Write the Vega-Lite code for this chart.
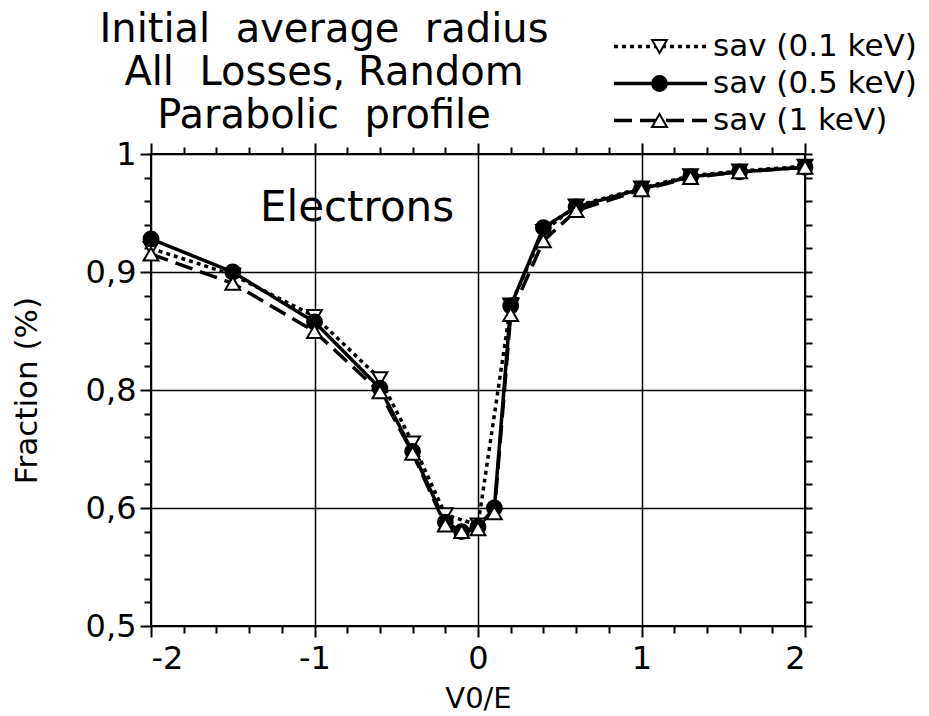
{
  "$schema": "https://vega.github.io/schema/vega-lite/v6.json",
  "width": 654,
  "height": 472,
  "autosize": "none",
  "padding": {"left": 151, "top": 154, "right": 124, "bottom": 90},
  "background": "white",
  "config": {"view": {"stroke": "black", "strokeWidth": 2}, "font": "DejaVu Sans"},
  "title": {
    "text": ["Initial\u00a0\u00a0average\u00a0\u00a0radius", "All\u00a0\u00a0Losses,\u00a0Random", "Parabolic\u00a0\u00a0profile"],
    "fontSize": 40, "font": "DejaVu Sans", "fontWeight": "normal", "lineHeight": 43,
    "anchor": "middle", "dx": -154, "dy": 108, "offset": 4, "color": "black"
  },
  "data": {"values": [
    {"series": "sav (0.1 keV)", "x": -2, "y": 0.900},
    {"series": "sav (0.1 keV)", "x": -1.5, "y": 0.872},
    {"series": "sav (0.1 keV)", "x": -1, "y": 0.828},
    {"series": "sav (0.1 keV)", "x": -0.6, "y": 0.762},
    {"series": "sav (0.1 keV)", "x": -0.4, "y": 0.694},
    {"series": "sav (0.1 keV)", "x": -0.2, "y": 0.618},
    {"series": "sav (0.1 keV)", "x": 0, "y": 0.607},
    {"series": "sav (0.1 keV)", "x": 0.2, "y": 0.840},
    {"series": "sav (0.1 keV)", "x": 0.4, "y": 0.918},
    {"series": "sav (0.1 keV)", "x": 0.6, "y": 0.945},
    {"series": "sav (0.1 keV)", "x": 1, "y": 0.964},
    {"series": "sav (0.1 keV)", "x": 1.3, "y": 0.977},
    {"series": "sav (0.1 keV)", "x": 1.6, "y": 0.982},
    {"series": "sav (0.1 keV)", "x": 2, "y": 0.987},
    {"series": "sav (0.5 keV)", "x": -2, "y": 0.910},
    {"series": "sav (0.5 keV)", "x": -1.5, "y": 0.875},
    {"series": "sav (0.5 keV)", "x": -1, "y": 0.822},
    {"series": "sav (0.5 keV)", "x": -0.6, "y": 0.752},
    {"series": "sav (0.5 keV)", "x": -0.4, "y": 0.685},
    {"series": "sav (0.5 keV)", "x": -0.2, "y": 0.610},
    {"series": "sav (0.5 keV)", "x": -0.1, "y": 0.600},
    {"series": "sav (0.5 keV)", "x": 0, "y": 0.605},
    {"series": "sav (0.5 keV)", "x": 0.1, "y": 0.625},
    {"series": "sav (0.5 keV)", "x": 0.2, "y": 0.839},
    {"series": "sav (0.5 keV)", "x": 0.4, "y": 0.922},
    {"series": "sav (0.5 keV)", "x": 0.6, "y": 0.944},
    {"series": "sav (0.5 keV)", "x": 1, "y": 0.963},
    {"series": "sav (0.5 keV)", "x": 1.3, "y": 0.976},
    {"series": "sav (0.5 keV)", "x": 1.6, "y": 0.981},
    {"series": "sav (0.5 keV)", "x": 2, "y": 0.986},
    {"series": "sav (1 keV)", "x": -2, "y": 0.894},
    {"series": "sav (1 keV)", "x": -1.5, "y": 0.863},
    {"series": "sav (1 keV)", "x": -1, "y": 0.812},
    {"series": "sav (1 keV)", "x": -0.6, "y": 0.748},
    {"series": "sav (1 keV)", "x": -0.4, "y": 0.683},
    {"series": "sav (1 keV)", "x": -0.2, "y": 0.607},
    {"series": "sav (1 keV)", "x": -0.1, "y": 0.600},
    {"series": "sav (1 keV)", "x": 0, "y": 0.603},
    {"series": "sav (1 keV)", "x": 0.1, "y": 0.620},
    {"series": "sav (1 keV)", "x": 0.2, "y": 0.830},
    {"series": "sav (1 keV)", "x": 0.4, "y": 0.908},
    {"series": "sav (1 keV)", "x": 0.6, "y": 0.940},
    {"series": "sav (1 keV)", "x": 1, "y": 0.962},
    {"series": "sav (1 keV)", "x": 1.3, "y": 0.975},
    {"series": "sav (1 keV)", "x": 1.6, "y": 0.981},
    {"series": "sav (1 keV)", "x": 2, "y": 0.986}
  ]},
  "layer": [
    {
      "mark": {"type": "line", "color": "black", "strokeWidth": 3.5},
      "encoding": {
        "x": {
          "field": "x", "type": "quantitative",
          "scale": {"domain": [-2, 2], "nice": false, "zero": false},
          "axis": {
            "orient": "bottom",
            "values": [-2, -1.8, -1.6, -1.4, -1.2, -1, -0.8, -0.6, -0.4, -0.2, 0, 0.2, 0.4, 0.6, 0.8, 1, 1.2, 1.4, 1.6, 1.8, 2],
            "labelExpr": "abs(datum.value - round(datum.value)) < 0.001 ? (round(datum.value) < 0 ? '-' + abs(round(datum.value)) : '' + round(datum.value)) : ''",
            "labelFontSize": 32, "labelColor": "black", "labelPadding": 6, "labelFont": "DejaVu Sans",
            "domain": false,
            "tickColor": "black", "tickWidth": 2,
            "tickSize": {"condition": {"test": "abs(datum.value - round(datum.value)) < 0.001", "value": 11}, "value": 7},
            "grid": true, "gridColor": "black", "gridWidth": 1.5,
            "gridOpacity": {"condition": {"test": "abs(datum.value - round(datum.value)) < 0.001", "value": 1}, "value": 0},
            "title": "V0/E", "titleFontSize": 29, "titleFontWeight": "normal", "titleColor": "black", "titlePadding": 10, "titleFont": "DejaVu Sans"
          }
        },
        "y": {
          "field": "y", "type": "quantitative",
          "scale": {"domain": [0.5, 1], "nice": false, "zero": false},
          "axis": {
            "orient": "left",
            "values": [0.5, 0.525, 0.55, 0.575, 0.6, 0.625, 0.65, 0.675, 0.7, 0.725, 0.75, 0.775, 0.8, 0.825, 0.85, 0.875, 0.9, 0.925, 0.95, 0.975, 1],
            "labelExpr": "abs(datum.value * 8 - round(datum.value * 8)) < 0.001 ? (datum.value > 0.999 ? '1' : replace(format(datum.value, '.1f'), '.', ',')) : ''",
            "labelFontSize": 32, "labelColor": "black", "labelPadding": 4, "labelFont": "DejaVu Sans",
            "domain": false,
            "tickColor": "black", "tickWidth": 2,
            "tickSize": {"condition": {"test": "abs(datum.value * 8 - round(datum.value * 8)) < 0.001", "value": 11}, "value": 7},
            "grid": true, "gridColor": "black", "gridWidth": 1.5,
            "gridOpacity": {"condition": {"test": "abs(datum.value * 8 - round(datum.value * 8)) < 0.001", "value": 1}, "value": 0},
            "title": "Fraction (%)", "titleFontSize": 31, "titleFontWeight": "normal", "titleColor": "black", "titlePadding": 42, "titleFont": "DejaVu Sans"
          }
        },
        "strokeDash": {
          "field": "series", "type": "nominal",
          "scale": {"domain": ["sav (0.1 keV)", "sav (0.5 keV)", "sav (1 keV)"], "range": [[4, 4], [1, 0], [18, 8]]},
          "legend": {
            "orient": "none", "legendX": 461, "legendY": -122, "title": null, "padding": 0,
            "symbolType": "stroke", "symbolSize": 8649, "symbolStrokeWidth": 3.5, "symbolStrokeColor": "black",
            "clipHeight": 29,
            "labelFontSize": 31, "labelFont": "DejaVu Sans", "labelColor": "black", "labelOffset": 4, "labelLimit": 400, "rowPadding": 5
          }
        }
      }
    },
    {
      "mark": {"type": "point", "filled": true, "stroke": "black", "strokeWidth": 2, "size": 220, "opacity": 1},
      "encoding": {
        "x": {
          "field": "x", "type": "quantitative",
          "axis": {
            "orient": "top", "values": [-2, -1.8, -1.6, -1.4, -1.2, -1, -0.8, -0.6, -0.4, -0.2, 0, 0.2, 0.4, 0.6, 0.8, 1, 1.2, 1.4, 1.6, 1.8, 2],
            "labels": false, "grid": false, "domain": false, "title": null,
            "tickColor": "black", "tickWidth": 2,
            "tickSize": {"condition": {"test": "abs(datum.value - round(datum.value)) < 0.001", "value": 11}, "value": 7}
          }
        },
        "y": {
          "field": "y", "type": "quantitative",
          "axis": {
            "orient": "right", "values": [0.5, 0.525, 0.55, 0.575, 0.6, 0.625, 0.65, 0.675, 0.7, 0.725, 0.75, 0.775, 0.8, 0.825, 0.85, 0.875, 0.9, 0.925, 0.95, 0.975, 1],
            "labels": false, "grid": false, "domain": false, "title": null,
            "tickColor": "black", "tickWidth": 2, "tickSize": 7
          }
        },
        "shape": {
          "field": "series", "type": "nominal",
          "scale": {"range": ["triangle-down", "circle", "triangle-up"]},
          "legend": {
            "orient": "none", "legendX": 493, "legendY": -122, "title": null, "padding": 0,
            "symbolSize": 220, "symbolStrokeWidth": 2, "symbolStrokeColor": "black", "symbolFillColor": "white",
            "clipHeight": 29,
            "labelFontSize": 31, "labelExpr": "''", "labelOffset": 6, "rowPadding": 5,
            "encode": {"symbols": {"update": {"fill": {"signal": "datum.value === 'sav (0.5 keV)' ? 'black' : 'white'"}}}}
          }
        },
        "fill": {
          "field": "series", "type": "nominal",
          "scale": {"range": ["white", "black", "white"]},
          "legend": null
        }
      }
    },
    {
      "data": {"values": [{}]},
      "mark": {"type": "text", "text": "Electrons", "fontSize": 42, "font": "DejaVu Sans", "align": "center", "baseline": "alphabetic", "color": "black"},
      "encoding": {
        "x": {"datum": -0.74, "type": "quantitative", "axis": null},
        "y": {"datum": 0.929, "type": "quantitative", "axis": null}
      }
    }
  ],
  "resolve": {"axis": {"x": "independent", "y": "independent"}}
}
